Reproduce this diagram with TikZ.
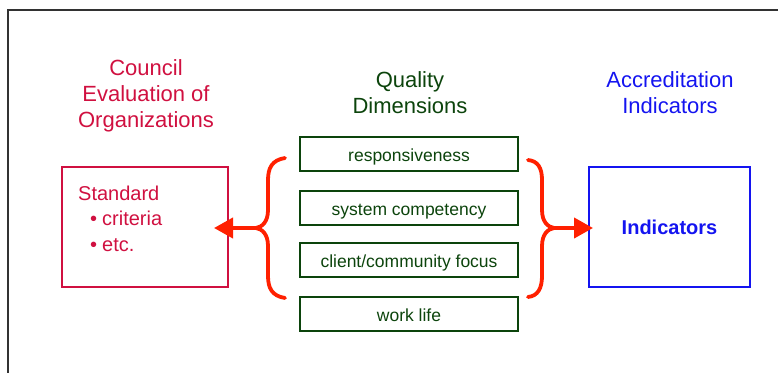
\documentclass[tikz,border=0pt]{standalone}
\usepackage{fontspec}
\setmainfont{Liberation Sans}
\usetikzlibrary{arrows.meta}
\definecolor{crim}{RGB}{208,16,64}
\definecolor{dgreen}{RGB}{12,68,12}
\definecolor{myblue}{RGB}{20,20,240}
\definecolor{bred}{RGB}{255,32,0}
\definecolor{framegray}{RGB}{50,50,50}
\tikzset{
  title/.style={align=center, inner sep=0pt, font=\fontsize{22}{26}\selectfont},
  dimbox/.style={draw=dgreen, line width=1.8pt, minimum width=218pt, minimum height=34pt,
    inner sep=0pt, text=dgreen, text height=15pt, text depth=0pt, font=\fontsize{17.5}{20}\selectfont},
  bigbox/.style={line width=2pt, minimum height=120pt, inner sep=0pt},
  stdtext/.style={anchor=base west, inner sep=0pt, text=crim, font=\fontsize{20}{24}\selectfont},
  brace/.style={draw=bred, line width=3.8pt, line cap=round, line join=round},
  redarrow/.style={draw=bred, line width=4pt, -{Triangle[length=19pt,width=20pt]}},
}
\begin{document}
\begin{tikzpicture}[x=1pt, y=-1pt]
\clip (0,0) rectangle (778,372);
% outer frame
\draw[framegray, line width=1.8pt] (8,10) rectangle (800,400);

% titles
\node[title, text=crim] (t1) at (146,96) {Council\\Evaluation of\\Organizations};
\node[title, text=dgreen] (t2) at (410,93) {Quality\\Dimensions};
\node[title, text=myblue] (t3) at (670,93) {Accreditation\\Indicators};

% quality dimension boxes
\node[dimbox] (d1) at (409,154) {responsiveness};
\node[dimbox] (d2) at (409,208) {system competency};
\node[dimbox] (d3) at (409,260) {client/community focus};
\node[dimbox] (d4) at (409,314) {work life};

% left box
\node[bigbox, draw=crim, minimum width=166pt] (lbox) at (145,227) {};
\node[stdtext] (s1) at (78,200) {Standard};
\node[stdtext] (s2) at (90,225) {\textbullet\hspace{5pt}criteria};
\node[stdtext] (s3) at (90,251) {\textbullet\hspace{5pt}etc.};

% right box
\node[bigbox, draw=myblue, minimum width=161pt, text=myblue, text height=16.5pt, text depth=0pt,
  font=\bfseries\fontsize{20}{24}\selectfont] (rbox) at (669.5,226.5) {Indicators};

% braces
\coordinate (lbt) at (256,228);
\coordinate (rbt) at (554,228);
\draw[brace] (285,158) .. controls (272,160) and (268,168) .. (268,180) -- (268,210)
  .. controls (268,222) and (262,227) .. (lbt)
  .. controls (262,229) and (268,234) .. (268,246) -- (268,276)
  .. controls (268,288) and (272,296) .. (285,298);
\draw[brace] (528,160) .. controls (538,161) and (542,168) .. (542,180) -- (542,210)
  .. controls (542,222) and (548,227) .. (rbt)
  .. controls (548,229) and (542,234) .. (542,246) -- (542,276)
  .. controls (542,288) and (538,296) .. (528,297);

% arrows
\draw[redarrow, shorten >=-15pt] (lbt) -- (lbt -| lbox.east);
\draw[redarrow, shorten >=-5pt] (rbt) -- (rbt -| rbox.west);
\end{tikzpicture}
\end{document}
